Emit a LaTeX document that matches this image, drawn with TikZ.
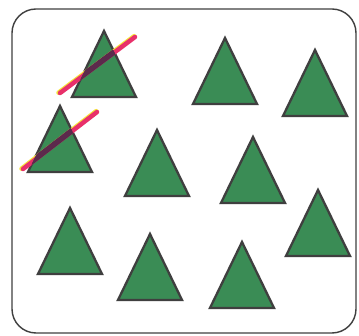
\documentclass[tikz,border=0pt]{standalone}
\begin{document}
\begin{tikzpicture}[x=1pt,y=-1pt]
\definecolor{treegreen}{HTML}{3A8C55}
\definecolor{edgegray}{HTML}{3F3F3F}
\definecolor{pen}{HTML}{E8306A}
\definecolor{penover}{HTML}{5C2A4C}
\definecolor{penyellow}{HTML}{F5E43A}
\tikzset{
  tri/.style={fill=treegreen, draw=edgegray, line width=2.3pt, line join=miter},
  frame/.style={draw=edgegray, line width=1.4pt, rounded corners=24pt},
  penline/.style={draw=pen, line width=4.5pt, line cap=round},
  penunder/.style={draw=penyellow, line width=4.5pt, line cap=round},
  penon/.style={draw=penover, line width=4.5pt, line cap=butt}
}
\useasboundingbox (0,0) rectangle (359,336);
\fill[white] (0,0) rectangle (359,336);
\draw[frame] (12,9) rectangle (356,333);
% triangles
\newcommand{\tree}[3]{\draw[tri] (#1,#2) -- (#1-#3,#2+66) -- (#1+#3,#2+66) -- cycle;}
\tree{104}{31}{32}
\tree{60}{106}{32}
\tree{225}{38}{32}
\tree{315}{50}{32}
\tree{157}{130}{32}
\tree{253}{137}{32}
\tree{70}{208}{32}
\tree{150}{234}{32}
\tree{242}{242}{32}
\tree{318}{190}{32}
% pen strokes
\coordinate (s1a) at (60,93);
\coordinate (s1b) at (135,37);
\coordinate (s2a) at (23,169);
\coordinate (s2b) at (97,112);
\coordinate (y1a) at ([shift={(-1.5,-0.3)}]s1a);
\coordinate (y1b) at ([shift={(-0.8,-0.8)}]s1b);
\coordinate (y2a) at ([shift={(-1.5,-0.3)}]s2a);
\coordinate (y2b) at ([shift={(-0.8,-0.8)}]s2b);
\draw[penunder] (y1a) -- (y1b);
\draw[penline] (s1a) -- (s1b);
\draw[penunder] (y2a) -- (y2b);
\draw[penline] (s2a) -- (s2b);
\begin{scope}
\clip (104,31) -- (72,97) -- (136,97) -- cycle;
\draw[penon] (y1a) -- (y1b);
\draw[penon] (s1a) -- (s1b);
\end{scope}
\begin{scope}
\clip (60,106) -- (28,172) -- (92,172) -- cycle;
\draw[penon] (y2a) -- (y2b);
\draw[penon] (s2a) -- (s2b);
\end{scope}
\end{tikzpicture}
\end{document}
